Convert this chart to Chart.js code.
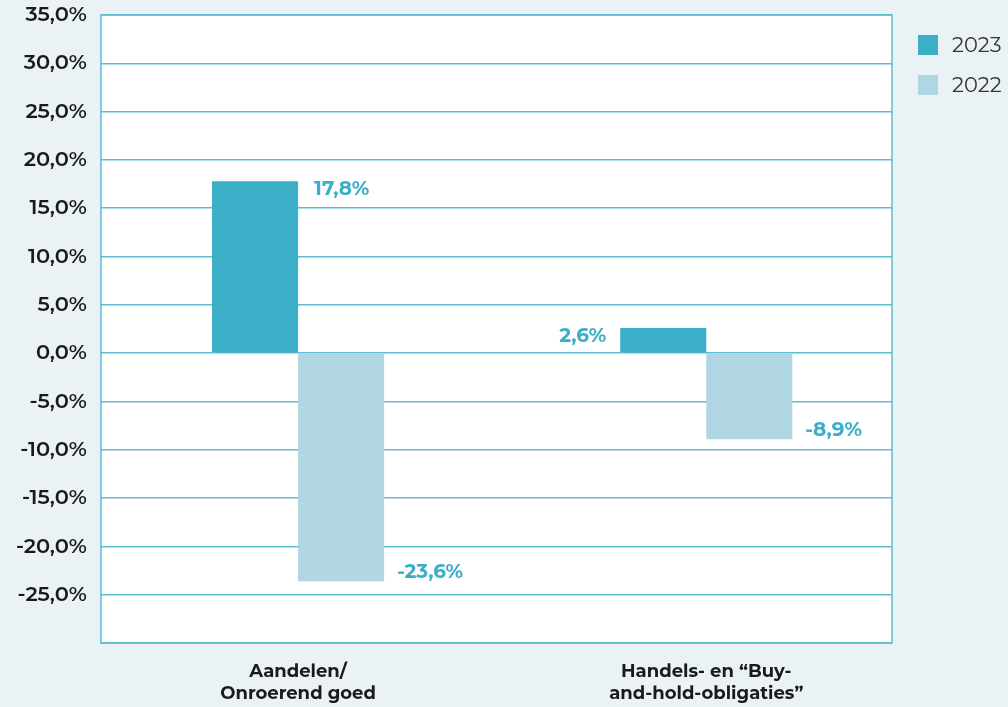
<!DOCTYPE html>
<html>
<head>
<meta charset="utf-8">
<script src="https://cdn.jsdelivr.net/npm/chart.js@4.4.1/dist/chart.umd.min.js"></script>
<style>
  html, body { margin: 0; padding: 0; background: #eaf2f6; }
  #wrap { width: 1008px; height: 707px; }
</style>
</head>
<body>
<div id="wrap"><canvas id="chart"></canvas></div>
<script>
// categories (x axis) and series values (y axis, in %)
const categories = [
  ["Aandelen/", "Onroerend goed"],
  ["Handels- en \u201cBuy-", "and-hold-obligaties\u201d"],
];
const values2023 = [17.8, 2.6];
const values2022 = [-23.6, -8.9];
const yTicks = [35, 30, 25, 20, 15, 10, 5, 0, -5, -10, -15, -20, -25];

const teal = "#3cafc8";
const lightBlue = "#b0d5e3";
const gridColor = "#5ebdd3";
const fontFamily = "Montserrat, 'Open Sans', sans-serif";

const fmt = (v) => v.toFixed(1).replace(".", ",") + "%";
const toPoints = (arr) => arr.map((v, i) => ({ x: i, y: v }));

// white plot area + border
const plotBox = {
  id: "plotBox",
  beforeDraw(chart) {
    const { ctx, chartArea: a } = chart;
    ctx.save();
    ctx.fillStyle = "#ffffff";
    ctx.fillRect(a.left, a.top, a.right - a.left, a.bottom - a.top);
    ctx.restore();
  },
  afterDraw(chart) {
    const { ctx, chartArea: a } = chart;
    ctx.save();
    ctx.strokeStyle = gridColor;
    ctx.lineWidth = 1.5;
    ctx.strokeRect(a.left, a.top, a.right - a.left, a.bottom - a.top);
    ctx.restore();
  },
};

// legend on the right, next to the plot top
const sideLegend = {
  id: "sideLegend",
  afterDraw(chart) {
    const { ctx, chartArea: a } = chart;
    ctx.save();
    ctx.font = "21px " + fontFamily;
    ctx.textBaseline = "middle";
    ctx.textAlign = "left";
    chart.data.datasets.forEach((ds, i) => {
      const cy = a.top + 30 + i * 40;
      const x0 = a.right + 26;
      ctx.fillStyle = ds.backgroundColor;
      ctx.fillRect(x0, cy - 10, 20, 20);
      ctx.fillStyle = "#333333";
      ctx.fillText(ds.label, x0 + 34, cy + 1);
    });
    ctx.restore();
  },
};

// value labels next to bars
const valueLabels = {
  id: "valueLabels",
  afterDatasetsDraw(chart) {
    const ctx = chart.ctx;
    ctx.save();
    ctx.font = "bold 20px " + fontFamily;
    ctx.fillStyle = teal;
    ctx.textBaseline = "middle";
    chart.data.datasets.forEach((ds, di) => {
      chart.getDatasetMeta(di).data.forEach((bar, i) => {
        const v = ds.data[i].y;
        const half = bar.width / 2;
        let x, y;
        if (v >= 0) {
          y = bar.y + 8;
          // small bar: put label on its left side
          if (v < 5) {
            ctx.textAlign = "right";
            x = bar.x - half - 14;
          } else {
            ctx.textAlign = "left";
            x = bar.x + half + 16;
          }
        } else {
          y = bar.y - 9;
          ctx.textAlign = "left";
          x = bar.x + half + 13;
        }
        ctx.fillText(fmt(v), x, y);
      });
    });
    ctx.restore();
  },
};

new Chart(document.getElementById("chart"), {
  type: "bar",
  data: {
    datasets: [
      { label: "2023", data: toPoints(values2023), backgroundColor: teal },
      { label: "2022", data: toPoints(values2022), backgroundColor: lightBlue },
    ],
  },
  options: {
    responsive: true,
    maintainAspectRatio: false,
    animation: false,
    layout: { padding: { top: 15, left: 2, right: 116, bottom: 0 } },
    datasets: {
      bar: { barPercentage: 1, categoryPercentage: 0.4216 },
    },
    plugins: {
      legend: { display: false },
      tooltip: { enabled: false },
    },
    scales: {
      x: {
        type: "linear",
        offset: false,
        min: -0.483,
        max: 1.455,
        afterBuildTicks(axis) {
          axis.ticks = categories.map((c, i) => ({ value: i }));
        },
        grid: { display: false },
        border: { display: false },
        afterFit(scale) {
          scale.height = 64;
        },
        ticks: {
          color: "#1a1a1a",
          padding: 10,
          maxRotation: 0,
          font: { family: fontFamily, size: 18, weight: "bold", lineHeight: 1.22 },
          callback: (v) => categories[v],
        },
      },
      y: {
        min: -30,
        max: 35,
        afterBuildTicks(axis) {
          axis.ticks = yTicks.concat([-30]).map((v) => ({ value: v }));
        },
        afterFit(scale) {
          scale.paddingTop = 0;
        },
        grid: { color: gridColor, lineWidth: 1.5, drawTicks: false },
        border: { display: false },
        ticks: {
          color: "#1a1a1a",
          padding: 14,
          font: { family: fontFamily, size: 21, weight: "600" },
          callback: (v) => (yTicks.includes(v) ? fmt(v) : ""),
        },
      },
    },
  },
  plugins: [plotBox, sideLegend, valueLabels],
});
</script>
</body>
</html>
